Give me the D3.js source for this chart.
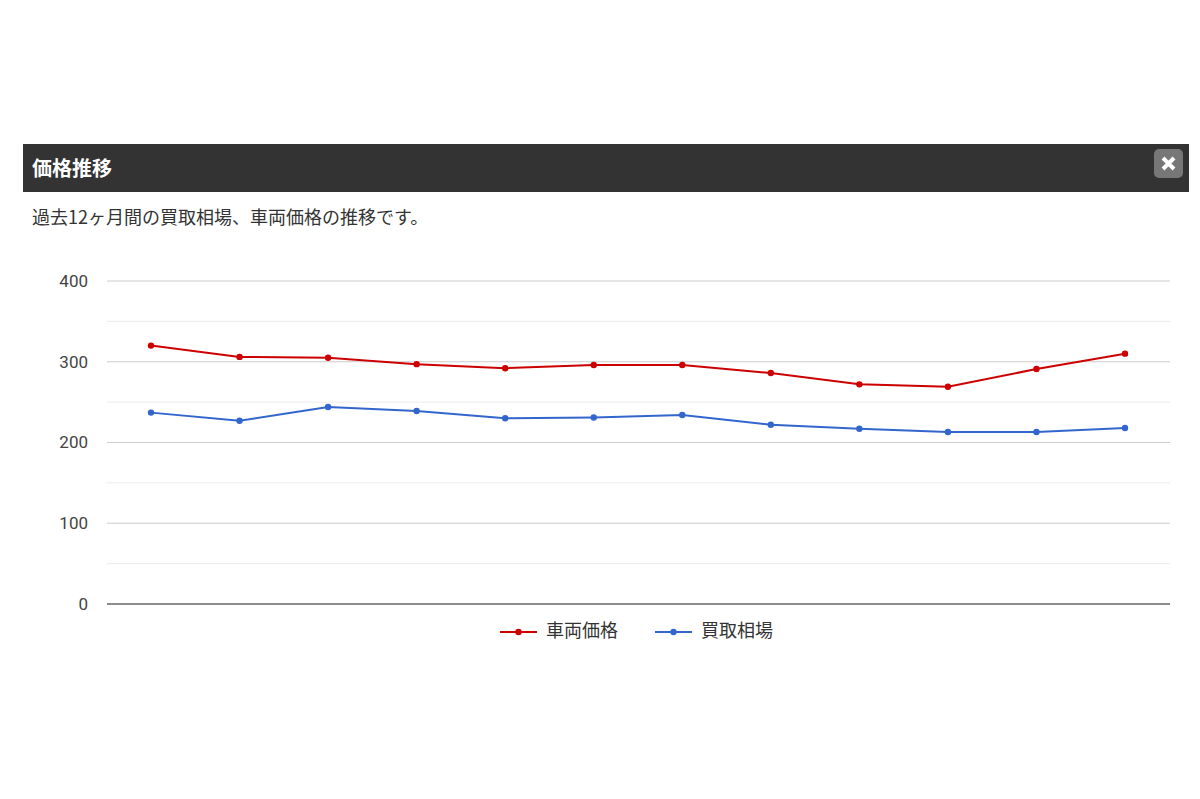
<!DOCTYPE html>
<html><head><meta charset="utf-8">
<script src="https://cdn.jsdelivr.net/npm/d3@7"></script>
<style>
body{margin:0;background:#fff;font-family:"Noto Sans CJK JP",sans-serif;}
</style></head>
<body>
<svg id="c" width="1200" height="799"></svg>
<script>
let months=["1","2","3","4","5","6","7","8","9","10","11","12"];
let shaRyo=[320,306,305,297,292,296,296,286,272,269,291,310];
let kaitori=[237,227,244,239,230,231,234,222,217,213,213,218];
let yTicks=[0,100,200,300,400];
let seriesNames=["車両価格","買取相場"];
let colors=["#cc0000","#3366cc"];

let svg=d3.select("#c");

// header bar
svg.append("rect").attr("x",23).attr("y",144).attr("width",1166).attr("height",48).attr("fill","#333");
svg.append("text").attr("x",32).attr("y",171).attr("fill","#fff").attr("font-size","20px").attr("font-weight","bold").attr("dominant-baseline","middle").text("価格推移");
svg.append("rect").attr("x",1154).attr("y",149).attr("width",29).attr("height",29).attr("rx",5).attr("fill","#777");
svg.append("path").attr("d","M1163,158 L1174,169 M1174,158 L1163,169").attr("stroke","#fff").attr("stroke-width",4);
svg.append("text").attr("x",32).attr("y",219).attr("fill","#333").attr("font-size","18px").attr("dominant-baseline","middle").text("過去12ヶ月間の買取相場、車両価格の推移です。");

let x=d3.scalePoint().domain(months).range([151,1125]);
let y=d3.scaleLinear().domain([0,400]).range([604,281]);

let g=svg.append("g");
d3.range(0,401,50).forEach(v=>{
  g.append("line").attr("x1",107).attr("x2",1170).attr("y1",y(v)).attr("y2",y(v))
    .attr("stroke",v%100===0?"#ccc":"#ebebeb").attr("stroke-width",1);
});
g.append("line").attr("x1",107).attr("x2",1170).attr("y1",y(0)).attr("y2",y(0)).attr("stroke","#333");

let yAxis=d3.axisLeft(y).tickValues(yTicks).tickSize(0).tickPadding(0);
let ya=svg.append("g").attr("transform","translate(88,0)").call(yAxis);
ya.select(".domain").remove();
ya.selectAll("text").attr("font-size","17px").attr("fill","#444").attr("font-family","Roboto,sans-serif");

let line=d3.line().x((d,i)=>x(months[i])).y(d=>y(d));
[shaRyo,kaitori].forEach((s,k)=>{
  svg.append("path").datum(s).attr("d",line).attr("fill","none").attr("stroke",colors[k]).attr("stroke-width",2);
  svg.selectAll(".p"+k).data(s).enter().append("circle")
    .attr("cx",(d,i)=>x(months[i])).attr("cy",d=>y(d)).attr("r",3.2).attr("fill",colors[k]);
});

// legend
let lx=[500,655];
seriesNames.forEach((n,k)=>{
  let lg=svg.append("g").attr("transform","translate("+lx[k]+",632)");
  lg.append("line").attr("x1",0).attr("x2",37).attr("stroke",colors[k]).attr("stroke-width",2);
  lg.append("circle").attr("cx",18.5).attr("r",3.2).attr("fill",colors[k]);
  lg.append("text").attr("x",46).attr("dominant-baseline","middle").attr("font-size","18px").attr("fill","#333").text(n);
});
</script>
</body></html>
